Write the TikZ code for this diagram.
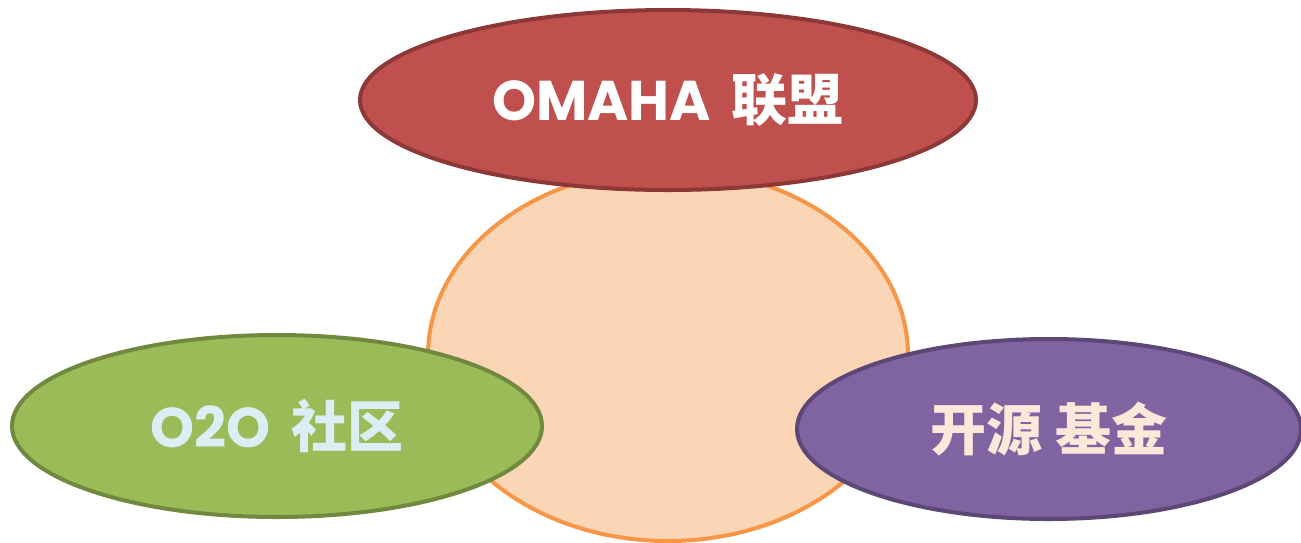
\documentclass[tikz,border=0pt]{standalone}
\usepackage{fontspec}
\usetikzlibrary{shapes.geometric}
\newfontfamily\popfont{Poppins}
\newfontfamily\cjkfont{Noto Sans CJK SC}
\definecolor{ctrfill}{HTML}{FAD5B6}
\definecolor{ctrdraw}{HTML}{F79646}
\definecolor{redfill}{HTML}{C0504D}
\definecolor{reddraw}{HTML}{8C3836}
\definecolor{grnfill}{HTML}{9BBB59}
\definecolor{grndraw}{HTML}{71893F}
\definecolor{grntext}{HTML}{DAEEF3}
\definecolor{purfill}{HTML}{8064A2}
\definecolor{purdraw}{HTML}{5C4776}
\definecolor{purtext}{HTML}{FDE9D9}
\tikzset{
  blob/.style={ellipse, inner sep=0pt, line width=4pt, font=\fontsize{56}{60}\selectfont\bfseries},
}
\newcommand{\lat}[1]{{\popfont\bfseries #1}}
\newcommand{\han}[1]{{\cjkfont\bfseries #1}}
\begin{document}
\begin{tikzpicture}[x=1pt,y=-1pt]
\useasboundingbox (0,0) rectangle (1301,542);
\node[blob, draw=ctrdraw, fill=ctrfill, minimum width=480pt, minimum height=372pt] (center) at (668,355) {};
\node[blob, draw=reddraw, fill=redfill, text=white, minimum width=616pt, minimum height=180pt] (omaha) at (668,100) {\lat{OMAHA} \han{联盟}};
\node[blob, draw=grndraw, fill=grnfill, text=grntext, minimum width=530pt, minimum height=182pt] (o2o) at (277,426) {\lat{O2O} \han{社区}};
\node[blob, draw=purdraw, fill=purfill, text=purtext, minimum width=504pt, minimum height=180pt] (fund) at (1049,429) {\han{开源 基金}};
\end{tikzpicture}
\end{document}
